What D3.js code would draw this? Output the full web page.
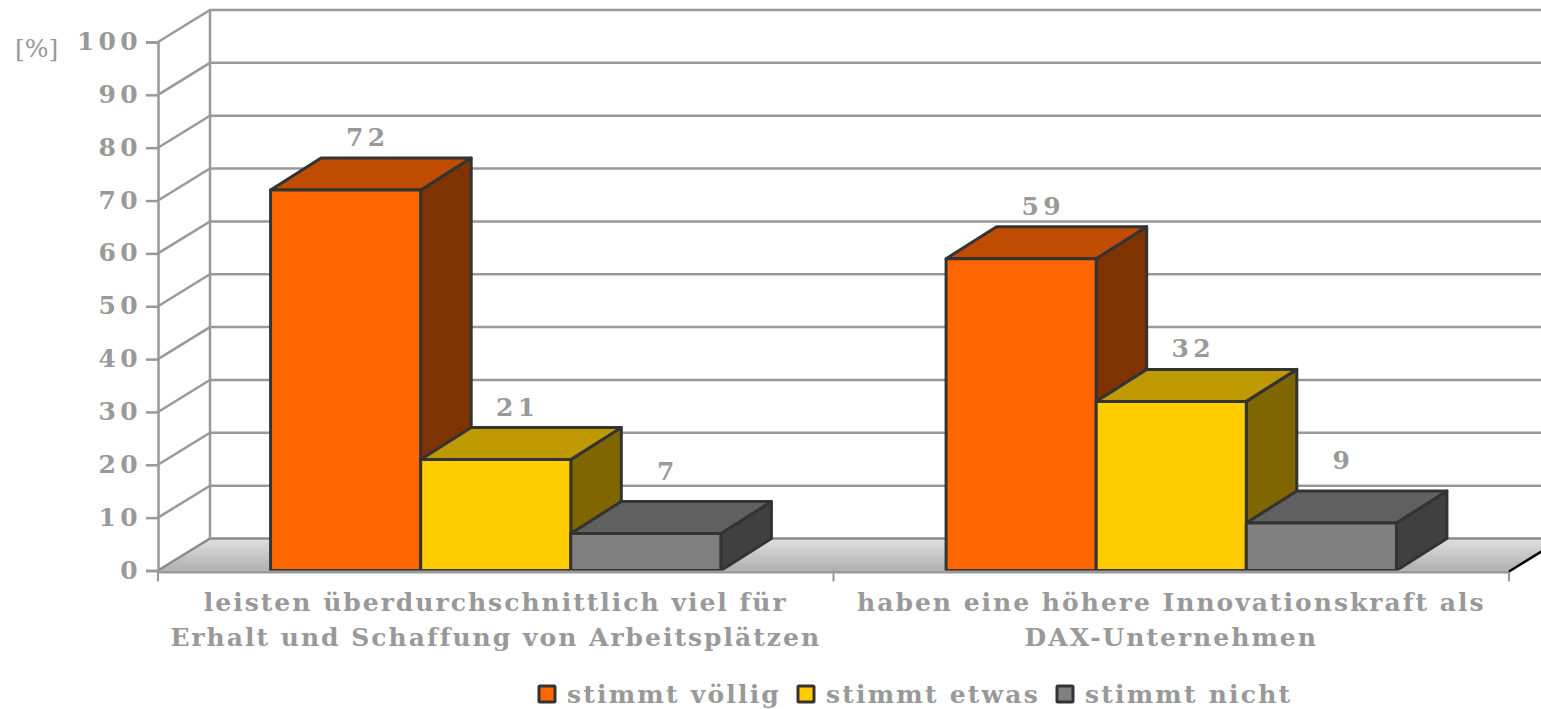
<!DOCTYPE html>
<html>
<head>
<meta charset="utf-8">
<script src="https://cdn.jsdelivr.net/npm/d3@7"></script>
<style>
body { margin: 0; background: #fff; overflow: hidden; }
text { font-family: "DejaVu Serif", serif; font-weight: bold; fill: #999; }
</style>
</head>
<body>
<svg id="chart" width="1541" height="709"></svg>
<script>
const categories = [
    ["leisten überdurchschnittlich viel für", "Erhalt und Schaffung von Arbeitsplätzen"],
    ["haben eine höhere Innovationskraft als", "DAX-Unternehmen"]
];
const seriesNames = ["stimmt völlig", "stimmt etwas", "stimmt nicht"];
const voellig = [72, 59];
const etwas = [21, 32];
const nicht = [7, 9];
const yTicks = [0, 10, 20, 30, 40, 50, 60, 70, 80, 90, 100];
const frontColors = ["#ff6600", "#ffcc00", "#808080"];
const topColors = ["#bf4c00", "#bf9900", "#606060"];
const sideColors = ["#7f3300", "#7f6600", "#404040"];

const svg = d3.select("#chart");
const depthX = 52, depthY = -32, barDepthX = 50.5;

const y = d3.scaleLinear().domain([0, 100]).range([570.5, 42]);
const x0 = d3.scaleBand().domain([0, 1]).range([158, 1509]);
const x1 = d3.scaleBand().domain([0, 1, 2]).range([0, x0.bandwidth()]).paddingInner(0).paddingOuter(0.75);
const values = [voellig, etwas, nicht];

const grad = svg.append("defs").append("linearGradient")
    .attr("id", "floor").attr("x1", 0).attr("y1", 0).attr("x2", 0).attr("y2", 1);
grad.append("stop").attr("offset", "0%").attr("stop-color", "#e0e0e0");
grad.append("stop").attr("offset", "100%").attr("stop-color", "#b0b0b0");

const x0L = x0.range()[0], x0R = x0.range()[1], y0 = y(0);

// floor
svg.append("path")
    .attr("d", `M${x0L},${y0}L${x0L + depthX},${y0 + depthY}L${x0R + depthX},${y0 + depthY}L${x0R},${y0}Z`)
    .attr("fill", "url(#floor)");

// walls
svg.append("g").selectAll("path").data(yTicks).enter().append("path")
    .attr("d", d => `M${x0L},${y(d)}L${x0L + depthX},${y(d) + depthY}L${x0R + depthX},${y(d) + depthY}`)
    .attr("fill", "none")
    .attr("stroke", d => d === 0 ? "#8a8a8a" : "#999")
    .attr("stroke-width", 2.5);
svg.append("line")
    .attr("x1", x0L + depthX).attr("x2", x0L + depthX)
    .attr("y1", y(0) + depthY).attr("y2", y(100) + depthY)
    .attr("stroke", "#999").attr("stroke-width", 2.5);

// y axis
const yAxis = svg.append("g")
    .attr("transform", `translate(${x0L},0)`)
    .call(d3.axisLeft(y).tickValues(yTicks).tickSize(12).tickPadding(4));
yAxis.selectAll("line").attr("stroke", "#999").attr("stroke-width", 2.5);
yAxis.select(".domain").attr("stroke", "#999").attr("stroke-width", 2.5);
yAxis.selectAll("text")
    .style("font-family", "'DejaVu Serif', serif")
    .style("font-size", "25px").style("letter-spacing", "4.3px").attr("dy", "0.3em")
    .attr("fill", "#999");

svg.append("text").attr("x", 15).attr("y", 57)
    .style("font-size", "25px").style("font-weight", "normal").text("[%]");

// bars
values.forEach((vals, s) => {
    vals.forEach((v, c) => {
        const xl = x0(c) + x1(s), xr = xl + x1.bandwidth(), yt = y(v);
        const g = svg.append("g").attr("stroke", "#333").attr("stroke-width", 3).attr("stroke-linejoin", "round");
        g.append("path").attr("fill", sideColors[s])
            .attr("d", `M${xr},${yt}L${xr + barDepthX},${yt + depthY}L${xr + barDepthX},${y0 + depthY}L${xr},${y0}Z`);
        g.append("path").attr("fill", topColors[s])
            .attr("d", `M${xl},${yt}L${xl + barDepthX},${yt + depthY}L${xr + barDepthX},${yt + depthY}L${xr},${yt}Z`);
        g.append("rect").attr("fill", frontColors[s])
            .attr("x", xl).attr("y", yt).attr("width", x1.bandwidth()).attr("height", y0 - yt);
        svg.append("text")
            .attr("x", (xl + xr) / 2 + 22)
            .attr("y", yt + depthY - (v < 10 ? 22 : 12))
            .attr("text-anchor", "middle")
            .style("font-size", "25px").style("letter-spacing", "4.3px")
            .text(v);
    });
});

// baseline and category ticks
svg.append("line").attr("x1", x0L).attr("x2", x0R).attr("y1", y0 + 1.5).attr("y2", y0 + 1.5)
    .attr("stroke", "#999").attr("stroke-width", 3);
svg.selectAll(".ctick").data([x0L, x0(1), x0R]).enter().append("line")
    .attr("class", "ctick")
    .attr("x1", d => d).attr("x2", d => d).attr("y1", y0).attr("y2", y0 + 11)
    .attr("stroke", "#999").attr("stroke-width", 2);
svg.append("line").attr("x1", x0R).attr("y1", y0 + 1)
    .attr("x2", x0R + depthX).attr("y2", y0 + 1 + depthY)
    .attr("stroke", "#000").attr("stroke-width", 2.5);

// category labels
categories.forEach((lines, c) => {
    lines.forEach((t, i) => {
        svg.append("text")
            .attr("x", x0(c) + x0.bandwidth() / 2)
            .attr("y", 611 + i * 35)
            .attr("text-anchor", "middle")
            .style("font-size", "25px").style("letter-spacing", "2px")
            .text(t);
    });
});

// legend
const legendX = d3.scalePoint().domain(seriesNames).range([539, 1057]);
const legend = svg.append("g").selectAll("g").data(seriesNames).enter().append("g")
    .attr("transform", d => `translate(${legendX(d)},686)`);
legend.append("rect").attr("width", 16).attr("height", 16).attr("rx", 1)
    .attr("fill", (d, i) => frontColors[i]).attr("stroke", "#333").attr("stroke-width", 3);
legend.append("text").attr("x", 28).attr("y", 17)
    .style("font-size", "25px").style("letter-spacing", "2.2px")
    .text(d => d);
</script>
</body>
</html>
